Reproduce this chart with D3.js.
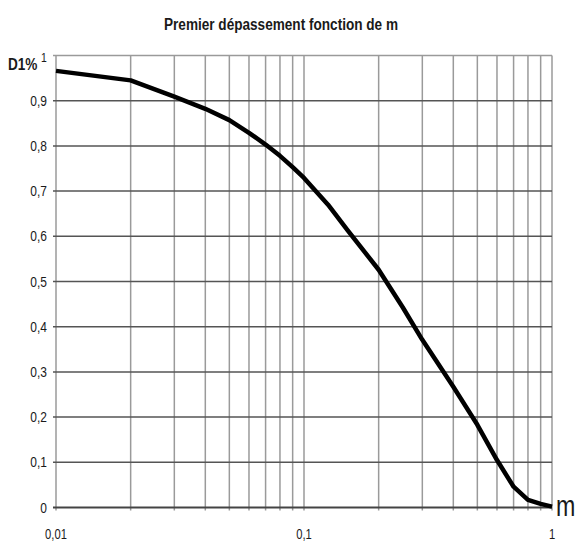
<!DOCTYPE html>
<html>
<head>
<meta charset="utf-8">
<script src="https://cdn.jsdelivr.net/npm/d3@7"></script>
<style>
  body { margin: 0; background: #fff; }
  text { font-family: "Liberation Sans", Arial, sans-serif; fill: #1a1a1a; }
</style>
</head>
<body>
<script>
// Curve: damping m and first overshoot D1%
const mValues = [0.01, 0.02, 0.03, 0.04, 0.05, 0.06, 0.07, 0.08, 0.09, 0.1, 0.125, 0.15, 0.2, 0.25, 0.3, 0.4, 0.5, 0.6, 0.7, 0.8, 0.9, 1];
const d1Values = [0.966, 0.945, 0.909, 0.882, 0.857, 0.829, 0.803, 0.778, 0.753, 0.729, 0.67, 0.613, 0.526, 0.443, 0.371, 0.267, 0.183, 0.105, 0.046, 0.017, 0.008, 0.002];

const yTicks = [0, 0.1, 0.2, 0.3, 0.4, 0.5, 0.6, 0.7, 0.8, 0.9];
const xLabelValues = [0.01, 0.1, 1];

const title = 'Premier dépassement fonction de m';

const width = 577, height = 546;
const narrow = 0.8; // the source uses a condensed face

const svg = d3.select('body')
    .append('svg')
    .attr('width', width)
    .attr('height', height);

// Scales
const x = d3.scaleLog()
    .domain([0.01, 1])
    .range([56, 552]);

const y = d3.scaleLinear()
    .domain([0, 1])
    .range([507.5, 55.5]);

const fmt = v => String(v).replace('.', ',');

// helper for condensed text placed at (px, py)
function label(g, px, py) {
    return g.append('text')
        .attr('transform', `translate(${px},${py}) scale(${narrow},1)`);
}

// Vertical grid (log decades)
svg.append('g')
    .selectAll('line')
    .data(x.ticks())
    .enter()
    .append('line')
    .attr('x1', d => x(d))
    .attr('x2', d => x(d))
    .attr('y1', y(1))
    .attr('y2', y(0) + 3)
    .attr('stroke', '#9a9a9a')
    .attr('stroke-width', 1.5);

// Horizontal grid
svg.append('g')
    .selectAll('line')
    .data(yTicks.concat([1]))
    .enter()
    .append('line')
    .attr('x1', x(0.01) - 3)
    .attr('x2', x(1))
    .attr('y1', d => y(d))
    .attr('y2', d => y(d))
    .attr('stroke', d => d === 0 ? '#444' : (d === 1 ? '#9a9a9a' : '#555'))
    .attr('stroke-width', d => d === 0 ? 2 : 1.5);

// Y tick labels
svg.append('g')
    .selectAll('text')
    .data(yTicks)
    .enter()
    .append('text')
    .attr('transform', d => `translate(47,${y(d) + 5}) scale(${narrow},1)`)
    .attr('text-anchor', 'end')
    .style('font-size', '15px')
    .text(fmt);

// Top "1" label sits next to the D1% title
label(svg, 44, y(1) + 6)
    .attr('text-anchor', 'middle')
    .style('font-size', '13px')
    .text(fmt(1));

label(svg, 8, 70)
    .style('font-size', '17px')
    .style('font-weight', 'bold')
    .text('D1%');

// X tick labels
svg.append('g')
    .selectAll('text')
    .data(xLabelValues)
    .enter()
    .append('text')
    .attr('transform', d => `translate(${x(d)},539) scale(${narrow},1)`)
    .attr('text-anchor', 'middle')
    .style('font-size', '14px')
    .text(fmt);

label(svg, 556, 516)
    .style('font-size', '29px')
    .text('m');

// Title
label(svg, 281, 30)
    .attr('text-anchor', 'middle')
    .style('font-size', '17px')
    .style('font-weight', 'bold')
    .text(title);

// Curve
const line = d3.line()
    .x((d, i) => x(mValues[i]))
    .y(d => y(d));

svg.append('path')
    .datum(d1Values)
    .attr('d', line)
    .attr('fill', 'none')
    .attr('stroke', '#000')
    .attr('stroke-width', 4.5)
    .attr('stroke-linejoin', 'round');
</script>
</body>
</html>
